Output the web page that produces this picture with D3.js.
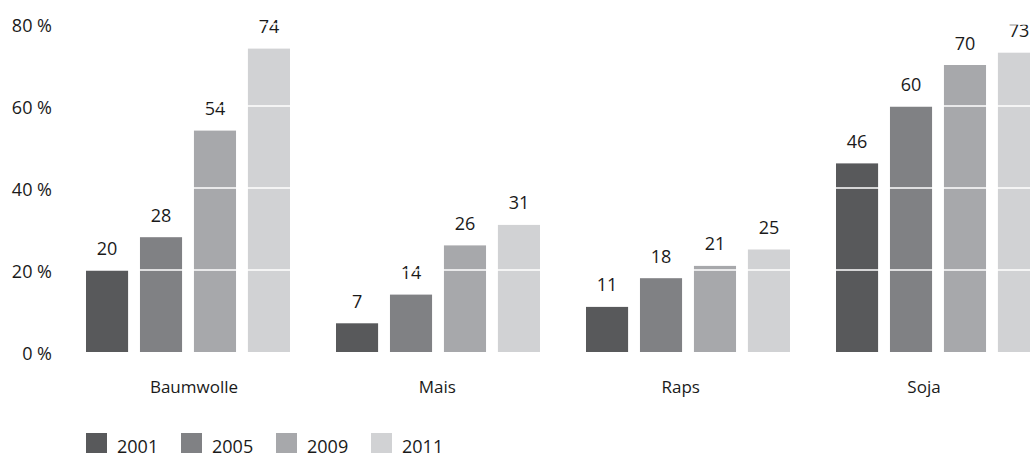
<!DOCTYPE html>
<html>
<head>
<meta charset="utf-8">
<script src="https://cdn.jsdelivr.net/npm/d3@7"></script>
<style>
  html, body { margin: 0; padding: 0; background: #fff; }
  svg { display: block; }
  text { font-family: "Open Sans", "Noto Sans", sans-serif; fill: #1a1a1a; }
</style>
</head>
<body>
<svg id="chart" width="1030" height="458"></svg>
<script>
const categories = ["Baumwolle", "Mais", "Raps", "Soja"];
const years = ["2001", "2005", "2009", "2011"];
const v2001 = [20, 7, 11, 46];
const v2005 = [28, 14, 18, 60];
const v2009 = [54, 26, 21, 70];
const v2011 = [74, 31, 25, 73];
const yTicks = [0, 20, 40, 60, 80];
const tickLabels = ["0 %", "20 %", "40 %", "60 %", "80 %"];
const colors = ["#58595b", "#808184", "#a7a8ab", "#d1d2d4"];

const seriesValues = [v2001, v2005, v2009, v2011];
const data = categories.map((c, i) => ({
  cat: c,
  vals: years.map((y, j) => ({ year: y, value: seriesValues[j][i], color: colors[j] }))
}));

const svg = d3.select("#chart");

const y = d3.scaleLinear().domain([0, 80]).range([352, 24]);
const x0 = d3.scaleBand().domain(categories).range([63, 1063]).paddingInner(0.184).paddingOuter(0.092);
const x1 = d3.scaleBand().domain(years).range([0, x0.bandwidth()]).paddingInner(0.22).paddingOuter(0);
const xLabel = d3.scalePoint().domain(categories).range([194, 924]);

// bars
const groups = svg.append("g").selectAll("g").data(data).join("g")
  .attr("transform", d => `translate(${x0(d.cat)},0)`);

groups.selectAll("rect").data(d => d.vals).join("rect")
  .attr("x", d => x1(d.year))
  .attr("width", x1.bandwidth())
  .attr("y", d => y(d.value))
  .attr("height", d => y(0) - y(d.value))
  .attr("fill", d => d.color);

// white gridlines drawn on top of bars
svg.append("g").selectAll("line").data(yTicks.filter(t => t > 0)).join("line")
  .attr("x1", 60).attr("x2", 1030)
  .attr("y1", d => y(d)).attr("y2", d => y(d))
  .attr("stroke", "#ffffff").attr("stroke-width", 1.5);

// value labels
groups.selectAll("text.val").data(d => d.vals).join("text")
  .attr("class", "val")
  .attr("x", d => x1(d.year) + x1.bandwidth() / 2)
  .attr("y", d => y(d.value) - 15.5)
  .attr("text-anchor", "middle")
  .attr("font-size", 18)
  .text(d => d.value);

// y-axis labels
svg.append("g").selectAll("text").data(yTicks).join("text")
  .attr("x", 52)
  .attr("y", d => y(d) + 8)
  .attr("text-anchor", "end")
  .attr("font-size", 18)
  .text((d, i) => tickLabels[i]);

// category labels
svg.append("g").selectAll("text").data(categories).join("text")
  .attr("x", d => xLabel(d))
  .attr("y", 393)
  .attr("text-anchor", "middle")
  .attr("font-size", 17)
  .text(d => d);

// legend
const legend = svg.append("g").selectAll("g").data(years).join("g")
  .attr("transform", (d, i) => `translate(${86 + i * 95},433)`);
legend.append("rect").attr("width", 21).attr("height", 20).attr("fill", (d, i) => colors[i]);
legend.append("text").attr("x", 31).attr("y", 20).attr("font-size", 18).text(d => d);
</script>
</body>
</html>
